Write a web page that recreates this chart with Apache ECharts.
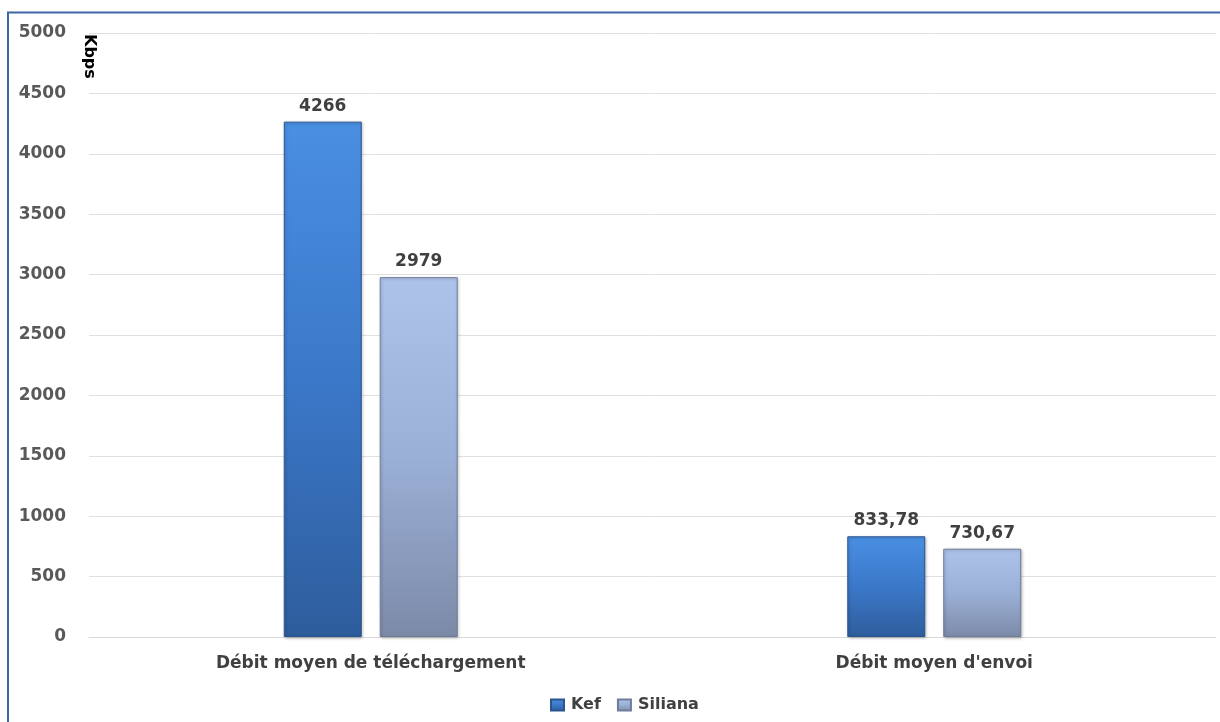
<!DOCTYPE html>
<html>
<head>
<meta charset="utf-8">
<script src="https://cdn.jsdelivr.net/npm/echarts@6/dist/echarts.min.js"></script>
<style>html,body{margin:0;padding:0;background:#fff}#c{width:1220px;height:722px}</style>
</head>
<body>
<div id="c"></div>
<script>
const categories = ["Débit moyen de téléchargement", "Débit moyen d'envoi"];
const kefValues = [4266, 833.78];
const silianaValues = [2979, 730.67];
const seriesNames = ["Kef", "Siliana"];
const unitLabel = "Kbps";

const chart = echarts.init(document.getElementById('c'));
const fmt = v => String(v.value).replace('.', ',');
const labelStyle = {show: true, position: 'top', distance: 7, formatter: fmt,
  fontFamily: 'DejaVu Sans', fontWeight: 'bold', fontSize: 17, color: '#404040'};

chart.setOption({
  animation: false,
  backgroundColor: '#fff',
  graphic: [
    {type: 'polyline', shape: {points: [[8, 722], [8, 12.5], [1220, 12.5]]}, style: {stroke: '#3f67a6', lineWidth: 2, fill: null}},
    {type: 'text', x: 97, y: 34, rotation: -Math.PI / 2,
     style: {text: unitLabel, fontFamily: 'DejaVu Sans', fontWeight: 'bold', fontSize: 16, fill: '#000'}}
  ],
  grid: {left: 89, right: 4, top: 33, bottom: 85, containLabel: false},
  legend: {
    bottom: 4, left: 545, itemWidth: 13, itemHeight: 11, itemGap: 16, icon: 'rect',
    textStyle: {fontFamily: 'DejaVu Sans', fontWeight: 'bold', fontSize: 16, color: '#404040', padding: [0, 0, 0, 2]},
    data: seriesNames
  },
  xAxis: {
    type: 'category', data: categories,
    axisLine: {lineStyle: {color: '#d9d9d9', width: 1}}, axisTick: {show: false},
    axisLabel: {margin: 18, fontFamily: 'DejaVu Sans', fontWeight: 'bold', fontSize: 17, color: '#404040'}
  },
  yAxis: {
    type: 'value', min: 0, max: 5000, interval: 500,
    axisLine: {show: false}, axisTick: {show: false},
    splitLine: {lineStyle: {color: '#e0e0e0', width: 1}},
    axisLabel: {margin: 23, formatter: v => String(v), fontFamily: 'DejaVu Sans', fontWeight: 'bold', fontSize: 17, color: '#595959'}
  },
  series: [
    {name: seriesNames[0], type: 'bar', data: kefValues, barWidth: 78, barGap: '23%',
     itemStyle: {color: new echarts.graphic.LinearGradient(0, 0, 0, 1, [
       {offset: 0, color: '#4a8fe2'}, {offset: 0.5, color: '#3b78c9'}, {offset: 1, color: '#2e5d9c'}]),
       borderColor: '#2a558f', borderWidth: 1,
       shadowColor: 'rgba(0,0,0,0.25)', shadowBlur: 3, shadowOffsetX: 1, shadowOffsetY: 1},
     label: labelStyle},
    {name: seriesNames[1], type: 'bar', data: silianaValues, barWidth: 78,
     itemStyle: {color: new echarts.graphic.LinearGradient(0, 0, 0, 1, [
       {offset: 0, color: '#aec3ea'}, {offset: 0.5, color: '#9bb0d6'}, {offset: 1, color: '#7c8aa8'}]),
       borderColor: '#6f7d99', borderWidth: 1,
       shadowColor: 'rgba(0,0,0,0.25)', shadowBlur: 3, shadowOffsetX: 1, shadowOffsetY: 1},
     label: labelStyle}
  ]
});
</script>
</body>
</html>
